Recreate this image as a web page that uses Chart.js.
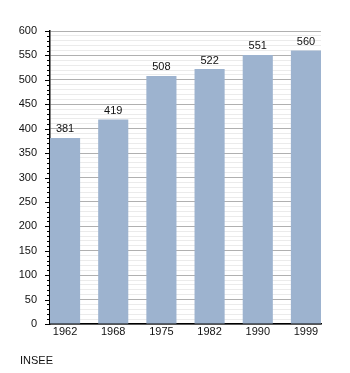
<!DOCTYPE html>
<html>
<head>
<meta charset="utf-8">
<script src="https://cdn.jsdelivr.net/npm/chart.js@4"></script>
<style>
  body { margin: 0; background: #ffffff; }
  #wrap { position: relative; width: 350px; height: 373px; }
  #source { position: absolute; left: 20px; top: 354px; font: 11px "Liberation Sans", Arial, sans-serif; color: #111; }
</style>
</head>
<body>
<div id="wrap">
  <canvas id="popChart" width="350" height="373"></canvas>
  <div id="source">INSEE</div>
</div>
<script>
const years = ['1962', '1968', '1975', '1982', '1990', '1999'];
const population = [381, 419, 508, 522, 551, 560];
const yMax = 600;

const fontFamily = '"Liberation Sans", Arial, sans-serif';

// value labels above bars + y tick marks (long for majors, short for minors)
const extras = {
    id: 'extras',
    afterDatasetsDraw(chart) {
        const ctx = chart.ctx;
        const meta = chart.getDatasetMeta(0);
        ctx.save();
        ctx.font = '11px ' + fontFamily;
        ctx.fillStyle = '#111';
        ctx.textAlign = 'center';
        ctx.textBaseline = 'bottom';
        meta.data.forEach((bar, i) => {
            ctx.fillText(population[i], bar.x, bar.y - 3);
        });

        const y = chart.scales.y;
        const left = chart.chartArea.left;
        ctx.strokeStyle = '#000';
        ctx.lineWidth = 1;
        y.ticks.forEach(t => {
            const py = Math.round(y.getPixelForValue(t.value)) + 0.5;
            const len = t.value % 50 === 0 ? 5 : 3;
            ctx.beginPath();
            ctx.moveTo(left - len, py);
            ctx.lineTo(left, py);
            ctx.stroke();
        });
        ctx.restore();
    }
};

new Chart(document.getElementById('popChart'), {
    type: 'bar',
    data: {
        datasets: [{
            data: population.map((v, i) => ({ x: i, y: v })),
            backgroundColor: '#9db3cf',
            borderWidth: 0,
            barPercentage: 0.625,
            categoryPercentage: 1
        }]
    },
    options: {
        responsive: false,
        animation: false,
        layout: { padding: { left: 0, right: 29, top: 31, bottom: 29 } },
        plugins: { legend: { display: false }, tooltip: { enabled: false } },
        scales: {
            x: {
                type: 'linear',
                offset: false,
                min: -0.3125,
                max: years.length - 1 + 0.3125,
                afterBuildTicks: axis => { axis.ticks = years.map((y, i) => ({ value: i })); },
                afterFit: axis => { axis.height = 20; },
                border: { display: true, color: '#000', width: 1.5 },
                grid: { display: false, drawTicks: false },
                ticks: {
                    autoSkip: false,
                    maxRotation: 0,
                    padding: 1,
                    color: '#111',
                    font: { family: fontFamily, size: 11 },
                    callback: (v) => years[v]
                }
            },
            y: {
                min: 0,
                max: yMax,
                afterFit: axis => { axis.width = 50; },
                border: { display: true, color: '#000', width: 1.5 },
                grid: {
                    color: c => (c.tick.value % 50 === 0 ? '#b0b0b0' : '#ebebeb'),
                    drawTicks: false,
                    lineWidth: 1
                },
                ticks: {
                    stepSize: 10,
                    autoSkip: false,
                    padding: 13,
                    color: '#111',
                    font: { family: fontFamily, size: 11 },
                    callback: v => (v % 50 === 0 ? v : '')
                }
            }
        }
    },
    plugins: [extras]
});
</script>
</body>
</html>
